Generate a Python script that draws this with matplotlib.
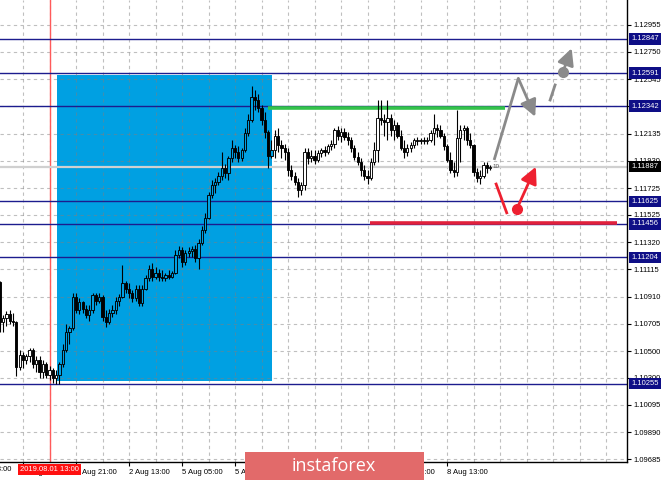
import numpy as np
import matplotlib
matplotlib.use('Agg')
import matplotlib.pyplot as plt
import matplotlib.transforms as mtransforms
from matplotlib.patches import Rectangle

plt.rcParams['font.family'] = ['Liberation Sans', 'DejaVu Sans']

# EURUSD H1, bars from 31 Jul 22:00 (index -7) ; index 0 = 1 Aug 05:00
first_open = 1.1102
high = [1.1103, 1.1077, 1.1080, 1.1081, 1.1079, 1.1073, 1.1051, 1.1049, 1.1048, 1.1052,
        1.1052, 1.1046, 1.1046, 1.1043, 1.1042, 1.1039, 1.1037, 1.1036, 1.1042, 1.1055,
        1.1070, 1.1069, 1.1094, 1.1094, 1.1090, 1.1088, 1.1085, 1.1085, 1.1094, 1.1094,
        1.1094, 1.1092, 1.1081, 1.1082, 1.1085, 1.1091, 1.1093, 1.1115, 1.1103, 1.1101,
        1.1096, 1.1100, 1.1100, 1.1100, 1.1107, 1.1115, 1.1116, 1.1113, 1.1112, 1.1111,
        1.1109, 1.1111, 1.1110, 1.1126, 1.1129, 1.1128, 1.1126, 1.1128, 1.1129, 1.1130,
        1.1134, 1.1144, 1.1154, 1.1170, 1.1179, 1.1180, 1.1185, 1.1200, 1.1191, 1.1197,
        1.1209, 1.1205, 1.1204, 1.1203, 1.1218, 1.1228, 1.1249, 1.1246, 1.1243, 1.1235,
        1.1230, 1.1216, 1.1209, 1.1216, 1.1218, 1.1209, 1.1206, 1.1203, 1.1190, 1.1185,
        1.1180, 1.1177, 1.1203, 1.1203, 1.1201, 1.1201, 1.1201, 1.1203, 1.1204, 1.1206,
        1.1209, 1.1218, 1.1219, 1.1218, 1.1218, 1.1215, 1.1211, 1.1205, 1.1200, 1.1195,
        1.1190, 1.1186, 1.1195, 1.1207, 1.1239, 1.1239, 1.1228, 1.1239, 1.1228, 1.1224,
        1.1222, 1.1216, 1.1209, 1.1206, 1.1207, 1.1210, 1.1211, 1.1210, 1.1211, 1.1211,
        1.1216, 1.1228, 1.1221, 1.1220, 1.1214, 1.1206, 1.1200, 1.1192, 1.1231, 1.1220,
        1.1220, 1.1219, 1.1214, 1.1206, 1.1188, 1.1186, 1.1192, 1.1192, 1.1190]
low = [1.1064, 1.1064, 1.1069, 1.1070, 1.1069, 1.1031, 1.1036, 1.1037, 1.1040, 1.1042,
       1.1037, 1.1034, 1.1030, 1.1030, 1.1030, 1.1028, 1.1026, 1.1025, 1.1025, 1.1038,
       1.1049, 1.1055, 1.1066, 1.1079, 1.1078, 1.1079, 1.1075, 1.1073, 1.1079, 1.1085,
       1.1086, 1.1073, 1.1068, 1.1070, 1.1076, 1.1078, 1.1084, 1.1090, 1.1094, 1.1090,
       1.1087, 1.1088, 1.1084, 1.1084, 1.1096, 1.1103, 1.1103, 1.1104, 1.1103, 1.1103,
       1.1103, 1.1104, 1.1105, 1.1108, 1.1120, 1.1113, 1.1115, 1.1121, 1.1121, 1.1117,
       1.1112, 1.1130, 1.1139, 1.1149, 1.1165, 1.1169, 1.1175, 1.1179, 1.1180, 1.1179,
       1.1192, 1.1195, 1.1192, 1.1193, 1.1200, 1.1212, 1.1222, 1.1231, 1.1230, 1.1220,
       1.1210, 1.1188, 1.1195, 1.1195, 1.1200, 1.1195, 1.1194, 1.1182, 1.1179, 1.1175,
       1.1166, 1.1167, 1.1171, 1.1191, 1.1192, 1.1191, 1.1192, 1.1196, 1.1197, 1.1198,
       1.1201, 1.1203, 1.1209, 1.1207, 1.1209, 1.1205, 1.1200, 1.1194, 1.1190, 1.1182,
       1.1179, 1.1176, 1.1179, 1.1190, 1.1192, 1.1220, 1.1212, 1.1209, 1.1212, 1.1209,
       1.1210, 1.1201, 1.1195, 1.1197, 1.1200, 1.1203, 1.1205, 1.1206, 1.1206, 1.1206,
       1.1207, 1.1205, 1.1211, 1.1210, 1.1201, 1.1192, 1.1184, 1.1181, 1.1182, 1.1192,
       1.1209, 1.1205, 1.1203, 1.1182, 1.1177, 1.1176, 1.1180, 1.1184, 1.1186]
close = [1.1072, 1.1075, 1.1078, 1.1073, 1.1072, 1.1038, 1.1047, 1.1043, 1.1046, 1.1051,
         1.1040, 1.1043, 1.1034, 1.1040, 1.1032, 1.1036, 1.1030, 1.1032, 1.1040, 1.1051,
         1.1064, 1.1067, 1.1091, 1.1081, 1.1087, 1.1082, 1.1077, 1.1081, 1.1092, 1.1088,
         1.1091, 1.1076, 1.1072, 1.1079, 1.1081, 1.1088, 1.1091, 1.1101, 1.1097, 1.1094,
         1.1090, 1.1097, 1.1086, 1.1097, 1.1105, 1.1112, 1.1106, 1.1109, 1.1106, 1.1105,
         1.1107, 1.1106, 1.1109, 1.1122, 1.1126, 1.1117, 1.1124, 1.1125, 1.1127, 1.1120,
         1.1131, 1.1141, 1.1150, 1.1167, 1.1175, 1.1177, 1.1182, 1.1188, 1.1184, 1.1195,
         1.1203, 1.1200, 1.1195, 1.1201, 1.1214, 1.1224, 1.1241, 1.1239, 1.1233, 1.1224,
         1.1215, 1.1197, 1.1201, 1.1212, 1.1205, 1.1203, 1.1200, 1.1186, 1.1182, 1.1177,
         1.1171, 1.1175, 1.1200, 1.1195, 1.1197, 1.1194, 1.1199, 1.1201, 1.1200, 1.1204,
         1.1206, 1.1216, 1.1212, 1.1215, 1.1211, 1.1209, 1.1203, 1.1196, 1.1192, 1.1186,
         1.1182, 1.1180, 1.1192, 1.1201, 1.1225, 1.1224, 1.1222, 1.1225, 1.1216, 1.1220,
         1.1212, 1.1203, 1.1200, 1.1203, 1.1205, 1.1209, 1.1208, 1.1209, 1.1208, 1.1209,
         1.1214, 1.1218, 1.1216, 1.1212, 1.1204, 1.1194, 1.1186, 1.1185, 1.1210, 1.1216,
         1.1218, 1.1209, 1.1205, 1.1185, 1.1180, 1.1182, 1.1190, 1.1188, 1.11887]

levels = [1.12847, 1.12591, 1.12342, 1.11625, 1.11456, 1.11204, 1.10255]
last_price = 1.11887
yticks = [1.12955, 1.12750, 1.12545, 1.12340, 1.12135, 1.11930, 1.11725, 1.11525,
          1.11320, 1.11115, 1.10910, 1.10705, 1.10500, 1.10300, 1.10095, 1.09890, 1.09685]
xtick_pos = [0, 16, 32, 48, 64, 80, 96, 112, 128]
xtick_labels = ['1 Aug 05:00', '1 Aug 21:00', '2 Aug 13:00', '5 Aug 05:00',
                '5 Aug 21:00', '6 Aug 13:00', '7 Aug 05:00', '7 Aug 21:00', '8 Aug 13:00']
prev_label = (-16, '31 Jul 13:00')  # sits left of the visible range, only ":00" shows
marker_bar = 8  # 2019.08.01 13:00

# drawn objects (bar, price)
box = (10.26, 1.10275, 75.2, 1.12576)
green_line = (74.0, 145.5, 1.12328)
red_line = (104.8, 179.3, 1.11463)
gray_path = [(142.2, 1.11937), (149.5, 1.12551), (154.6, 1.12262)]
gray_dash = [(159.1, 1.12388), (160.6, 1.12501)]
gray_dot = (162.9, 1.12596)
gray_tip = (165.6, 1.12777)
red_path = [(142.8, 1.11756), (146.0, 1.11540)]
red_dot = (149.0, 1.11566)
red_tip = (154.8, 1.11886)

close = np.array(close)
high = np.array(high)
low = np.array(low)
opens = np.concatenate([[first_open], close[:-1]])
bars = np.arange(len(close)) - 7

fig = plt.figure(figsize=(6.65, 4.80), dpi=100)
ax = fig.add_axes([0, 18 / 480, 627 / 665, 462 / 480])

# rectangle zone
ax.add_patch(Rectangle((box[0], box[1]), box[2] - box[0], box[3] - box[1],
                       fc='#00A0E2', ec='none', zorder=0.5))

# grid
for g in np.arange(0, 183, 8):
    ax.axvline(g, color='#808080', alpha=0.5, lw=0.8, ls=(0, (3, 3)), zorder=1)
for t in yticks:
    ax.axhline(t, color='#808080', alpha=0.5, lw=0.8, ls=(0, (3, 3)), zorder=1)

ax.axvline(marker_bar, color='#FF5A5A', lw=1, zorder=1.2)
ax.axhline(last_price, color='#D0D0D0', lw=1.6, zorder=1.2)
for lv in levels:
    ax.axhline(lv, color='#1C1C8E', lw=1, zorder=1.5)

ax.hlines(green_line[2], green_line[0], green_line[1], color='#33C24A', lw=2.6, zorder=1.6)
ax.hlines(red_line[2], red_line[0], red_line[1], color='#E0203C', lw=2.6, zorder=1.6)

# candles
up = close >= opens
ax.vlines(bars, low, high, color='black', lw=0.8, zorder=2)
body_lo = np.minimum(opens, close)
body_h = np.maximum(np.abs(close - opens), 0.00002)
for b, lo, h, u in zip(bars, body_lo, body_h, up):
    inside = box[0] <= b <= box[2]
    fc = ('#00A0E2' if inside else 'white') if u else 'black'
    ax.add_patch(Rectangle((b - 0.34, lo), 0.68, h, fc=fc, ec='black', lw=0.65, zorder=2.2))
ax.text(bars[-1] + 0.6, last_price, '10', fontsize=4.5, color='#505050', va='center', zorder=3)

# forecast arrows
gx, gy = zip(*gray_path)
ax.plot(gx[:2], gy[:2], color='#8A8A8A', lw=2.0, zorder=3, solid_capstyle='butt')
ax.annotate('', xy=gray_path[2], xytext=gray_path[1],
            arrowprops=dict(arrowstyle='-|>,head_length=1.0,head_width=0.5',
                            color='#8A8A8A', lw=2.0, shrinkA=0, shrinkB=0), zorder=3)
dx, dy = zip(*gray_dash)
ax.plot(dx, dy, color='#8A8A8A', lw=2.0, zorder=3)
ax.plot(*gray_dot, 'o', color='#8A8A8A', ms=7, zorder=3)
ax.annotate('', xy=gray_tip, xytext=gray_dot,
            arrowprops=dict(arrowstyle='-|>,head_length=1.0,head_width=0.5',
                            color='#8A8A8A', lw=2.0, shrinkA=0, shrinkB=0), zorder=3)
rx, ry = zip(*red_path)
ax.plot(rx, ry, color='#EE2030', lw=2.0, zorder=3)
ax.plot(*red_dot, 'o', color='#EE2030', ms=7, zorder=3)
ax.annotate('', xy=red_tip, xytext=red_dot,
            arrowprops=dict(arrowstyle='-|>,head_length=1.0,head_width=0.5',
                            color='#EE2030', lw=2.0, shrinkA=0, shrinkB=0), zorder=3)

# axes styling
for s in ['left', 'top']:
    ax.spines[s].set_visible(False)
for s in ['right', 'bottom']:
    ax.spines[s].set_color('black')
    ax.spines[s].set_linewidth(1)
ax.yaxis.tick_right()
ax.set_yticks(yticks, [f'{t:.5f}' for t in yticks])
ax.set_xticks(xtick_pos, xtick_labels, ha='left')
ax.tick_params(axis='both', labelsize=5.5, length=3, width=0.8, colors='black', pad=2)
# limits after the ticks, set_xticks widens the view otherwise
ax.set_xlim(-6.94, 182.3)
ax.set_ylim(1.09666, 1.1314)

trx = mtransforms.blended_transform_factory(ax.transData, ax.transAxes)
ax.text(prev_label[0], -0.0155, prev_label[1], transform=trx, fontsize=5.5, color='black',
        va='center', ha='left', clip_on=False)

tr = mtransforms.blended_transform_factory(ax.transAxes, ax.transData)
for lv in levels:
    ax.text(1.007, lv, f'{lv:.5f}', transform=tr, fontsize=5.5, color='white', va='center',
            ha='left', clip_on=False, zorder=10,
            bbox=dict(boxstyle='square,pad=0.3', fc='#0E0E86', ec='none'))
ax.text(1.007, last_price, f'{last_price:.5f}', transform=tr, fontsize=5.5, color='white',
        va='center', ha='left', clip_on=False, zorder=10,
        bbox=dict(boxstyle='square,pad=0.3', fc='black', ec='none'))

ax.text(marker_bar, -0.016, '2019.08.01 13:00', transform=trx, fontsize=5.5, color='white',
        va='center', ha='center', clip_on=False, zorder=10,
        bbox=dict(boxstyle='square,pad=0.25', fc='#FF1010', ec='none'))

# watermark banner
fig.add_artist(Rectangle((245 / 665, 0), 179 / 665, 28 / 480, transform=fig.transFigure,
                         fc='#E26A6A', ec='none', zorder=20))
fig.text(334 / 665, 14 / 480, 'instaforex', fontsize=13, color='white', ha='center',
         va='center', family='Open Sans', zorder=21)

fig.savefig('out.png', dpi=100)
